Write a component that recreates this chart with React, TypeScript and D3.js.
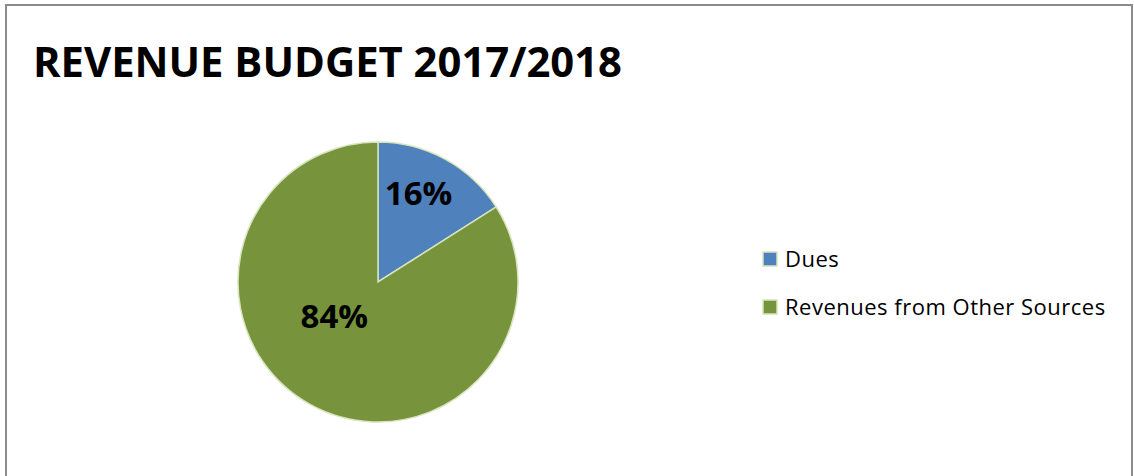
import React from 'react'
import * as d3 from 'd3'

const TITLE = 'REVENUE BUDGET 2017/2018'
const CATEGORIES = ['Dues', 'Revenues from Other Sources']
const VALUES = [16, 84]
const COLORS = ['#4f81bd', '#77933c']

const W = 1134
const H = 476
const FONT = '"Open Sans", Lato, sans-serif'

export default function App() {
  const cx = 378
  const cy = 282
  const r = 140

  const pie = d3
    .pie<number>()
    .sort(null)
    .value((d) => d)
  const arcs = pie(VALUES)
  const arc = d3.arc<d3.PieArcDatum<number>>().innerRadius(0).outerRadius(r)
  const total = d3.sum(VALUES)

  // Excel "best fit" label spots, approximated per slice
  const labelRadius = [0.72, 0.5]
  const labelShift = [[-8, 0], [-10, -27]]

  return (
    <div style={{ position: 'absolute', left: 0, top: 0 }}>
      <svg width={W} height={H} style={{ display: 'block', background: '#fff' }}>
        <rect x={6} y={5} width={1126} height={H + 10} fill="#fff" stroke="#8c8c8c" strokeWidth={2} />
        <text x={33} y={77} fontFamily={FONT} fontWeight={700} fontSize={41} fill="#000" textLength={589} lengthAdjust="spacingAndGlyphs">
          {TITLE}
        </text>
        <g transform={`translate(${cx},${cy})`}>
          {arcs.map((a, i) => (
            <path key={i} d={arc(a) ?? ''} fill={COLORS[i]} stroke="#d7e4bd" strokeWidth={1.5} />
          ))}
          {arcs.map((a, i) => {
            const la = d3
              .arc<d3.PieArcDatum<number>>()
              .innerRadius(r * labelRadius[i])
              .outerRadius(r * labelRadius[i])
            const [lx, ly] = la.centroid(a)
            return (
              <text
                key={'l' + i}
                x={lx + labelShift[i][0]}
                y={ly + labelShift[i][1]}
                dy="0.35em"
                textAnchor="middle"
                fontFamily={FONT}
                fontWeight={700}
                fontSize={33}
                fill="#000"
              >
                {Math.round((a.data / total) * 100)}%
              </text>
            )
          })}
        </g>
        <g transform="translate(763,252)">
          {CATEGORIES.map((c, i) => (
            <g key={c} transform={`translate(0,${i * 48})`}>
              <rect x={0} y={0} width={14} height={14} fill={COLORS[i]} stroke="#d7e4bd" strokeWidth={1.5} />
              <text x={22} y={15} fontFamily={FONT} fontSize={22} letterSpacing={0.5} fill="#000">
                {c}
              </text>
            </g>
          ))}
        </g>
      </svg>
    </div>
  )
}
